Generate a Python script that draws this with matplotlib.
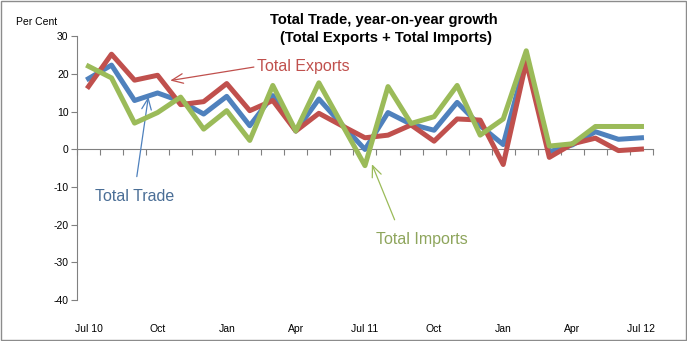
import numpy as np
import matplotlib
matplotlib.use("Agg")
import matplotlib.pyplot as plt
from matplotlib.patches import Rectangle

# ---------------------------------------------------------
# Total trade, year-on-year growth, Jul 2010 - Jul 2012
# values (per cent)
# ---------------------------------------------------------

tick_labels = ["Jul 10", "Oct", "Jan", "Apr", "Jul 11", "Oct", "Jan", "Apr", "Jul 12"]

total_trade = [18.8, 22.4, 13.0, 15.0, 12.8, 9.4, 14.1, 6.3, 14.3, 4.9, 13.4, 6.6, 0.0,
               9.8, 6.7, 5.1, 12.5, 6.3, 1.3, 24.2, -0.6, 1.2, 4.7, 2.7, 3.1]
total_exports = [16.7, 25.3, 18.4, 19.7, 11.9, 12.7, 17.5, 10.3, 13.0, 4.9, 9.6, 6.3, 3.1,
                 3.8, 6.5, 2.2, 8.1, 7.8, -4.0, 23.3, -2.1, 1.5, 3.0, -0.3, 0.1]
total_imports = [22.1, 19.0, 7.0, 9.8, 13.9, 5.4, 10.3, 2.4, 17.0, 4.9, 17.7, 6.7, -4.3,
                 16.7, 6.9, 8.7, 17.0, 3.8, 8.1, 26.2, 0.9, 1.5, 6.1, 6.1, 6.1]

BLUE = "#4F81BD"
RED = "#C0504D"
GREEN = "#9BBB59"

plt.rcParams["font.family"] = ["Liberation Sans", "DejaVu Sans"]
plt.rcParams["axes.unicode_minus"] = False

fig = plt.figure(figsize=(6.87, 3.41), dpi=100)
ax = fig.add_axes([0.112, 0.120, 0.8385, 0.773])

x = np.arange(len(total_trade))
ax.plot(x, total_trade, color=BLUE, lw=3.6, solid_joinstyle="round", zorder=3)
ax.plot(x, total_exports, color=RED, lw=3.6, solid_joinstyle="round", zorder=4)
ax.plot(x, total_imports, color=GREEN, lw=3.6, solid_joinstyle="round", zorder=5)

ax.set_xlim(-0.5, len(x) - 0.5)
ax.set_ylim(-40, 30)
ax.set_yticks(range(-40, 31, 10))
ax.tick_params(axis="y", direction="out", length=4, width=0.8, color="#808080",
               labelsize=7.5, pad=2)

# category labels along the bottom, no axis line there
ax.set_xticks(x[::3])
ax.set_xticklabels(tick_labels)
ax.tick_params(axis="x", length=0, labelsize=7.5, pad=17)
for s in ["top", "right", "bottom"]:
    ax.spines[s].set_visible(False)
ax.spines["left"].set_color("#808080")
ax.spines["left"].set_linewidth(0.8)

# zero line with tick marks between categories
zero = ax.secondary_xaxis(40 / 70)
zero.set_xticks(np.arange(-0.5, len(x), 1.0))
zero.set_xticklabels([])
zero.xaxis.set_ticks_position("bottom")
zero.tick_params(direction="out", length=4, width=0.8, color="#808080",
                 labelbottom=False, labeltop=False)
for s in ["top", "bottom"]:
    zero.spines[s].set_color("#808080")
    zero.spines[s].set_linewidth(0.8)

fig.text(16 / 687, 1 - 22 / 341, "Per Cent", fontsize=7.5, va="center", ha="left")
fig.text(384 / 687, 1 - 20 / 341, "Total Trade, year-on-year growth",
         fontsize=10.6, fontweight="bold", ha="center", va="center")
fig.text(386 / 687, 1 - 38 / 341, "(Total Exports + Total Imports)",
         fontsize=10.6, fontweight="bold", ha="center", va="center")

# callouts
ax.annotate("Total Exports", xy=(3.55, 18.3), xytext=(7.3, 22.0),
            color="#C0504D", fontsize=11.5, va="center", ha="left",
            arrowprops=dict(arrowstyle="->,head_length=0.7,head_width=0.3",
                            color=RED, lw=0.9, shrinkA=0, shrinkB=0,
                            relpos=(0, 0.5)))
ax.annotate("Total Trade", xy=(2.6, 14.0), xytext=(0.3, -12.5),
            color="#4A6E96", fontsize=11.5, va="center", ha="left",
            arrowprops=dict(arrowstyle="->,head_length=0.7,head_width=0.3",
                            color=BLUE, lw=0.9, shrinkA=7, shrinkB=0,
                            relpos=(0.5, 1)))
ax.annotate("Total Imports", xy=(12.3, -3.9), xytext=(12.5, -23.8),
            color="#8EA55C", fontsize=11.5, va="center", ha="left",
            arrowprops=dict(arrowstyle="->,head_length=0.7,head_width=0.3",
                            color=GREEN, lw=0.9, shrinkA=7, shrinkB=0,
                            relpos=(0.25, 1)))

fig.patches.append(Rectangle((0.001, 0.002), 0.997, 0.996, transform=fig.transFigure,
                             fill=False, edgecolor="#8C8C8C", lw=1.0))

fig.savefig("out.png", dpi=100)
